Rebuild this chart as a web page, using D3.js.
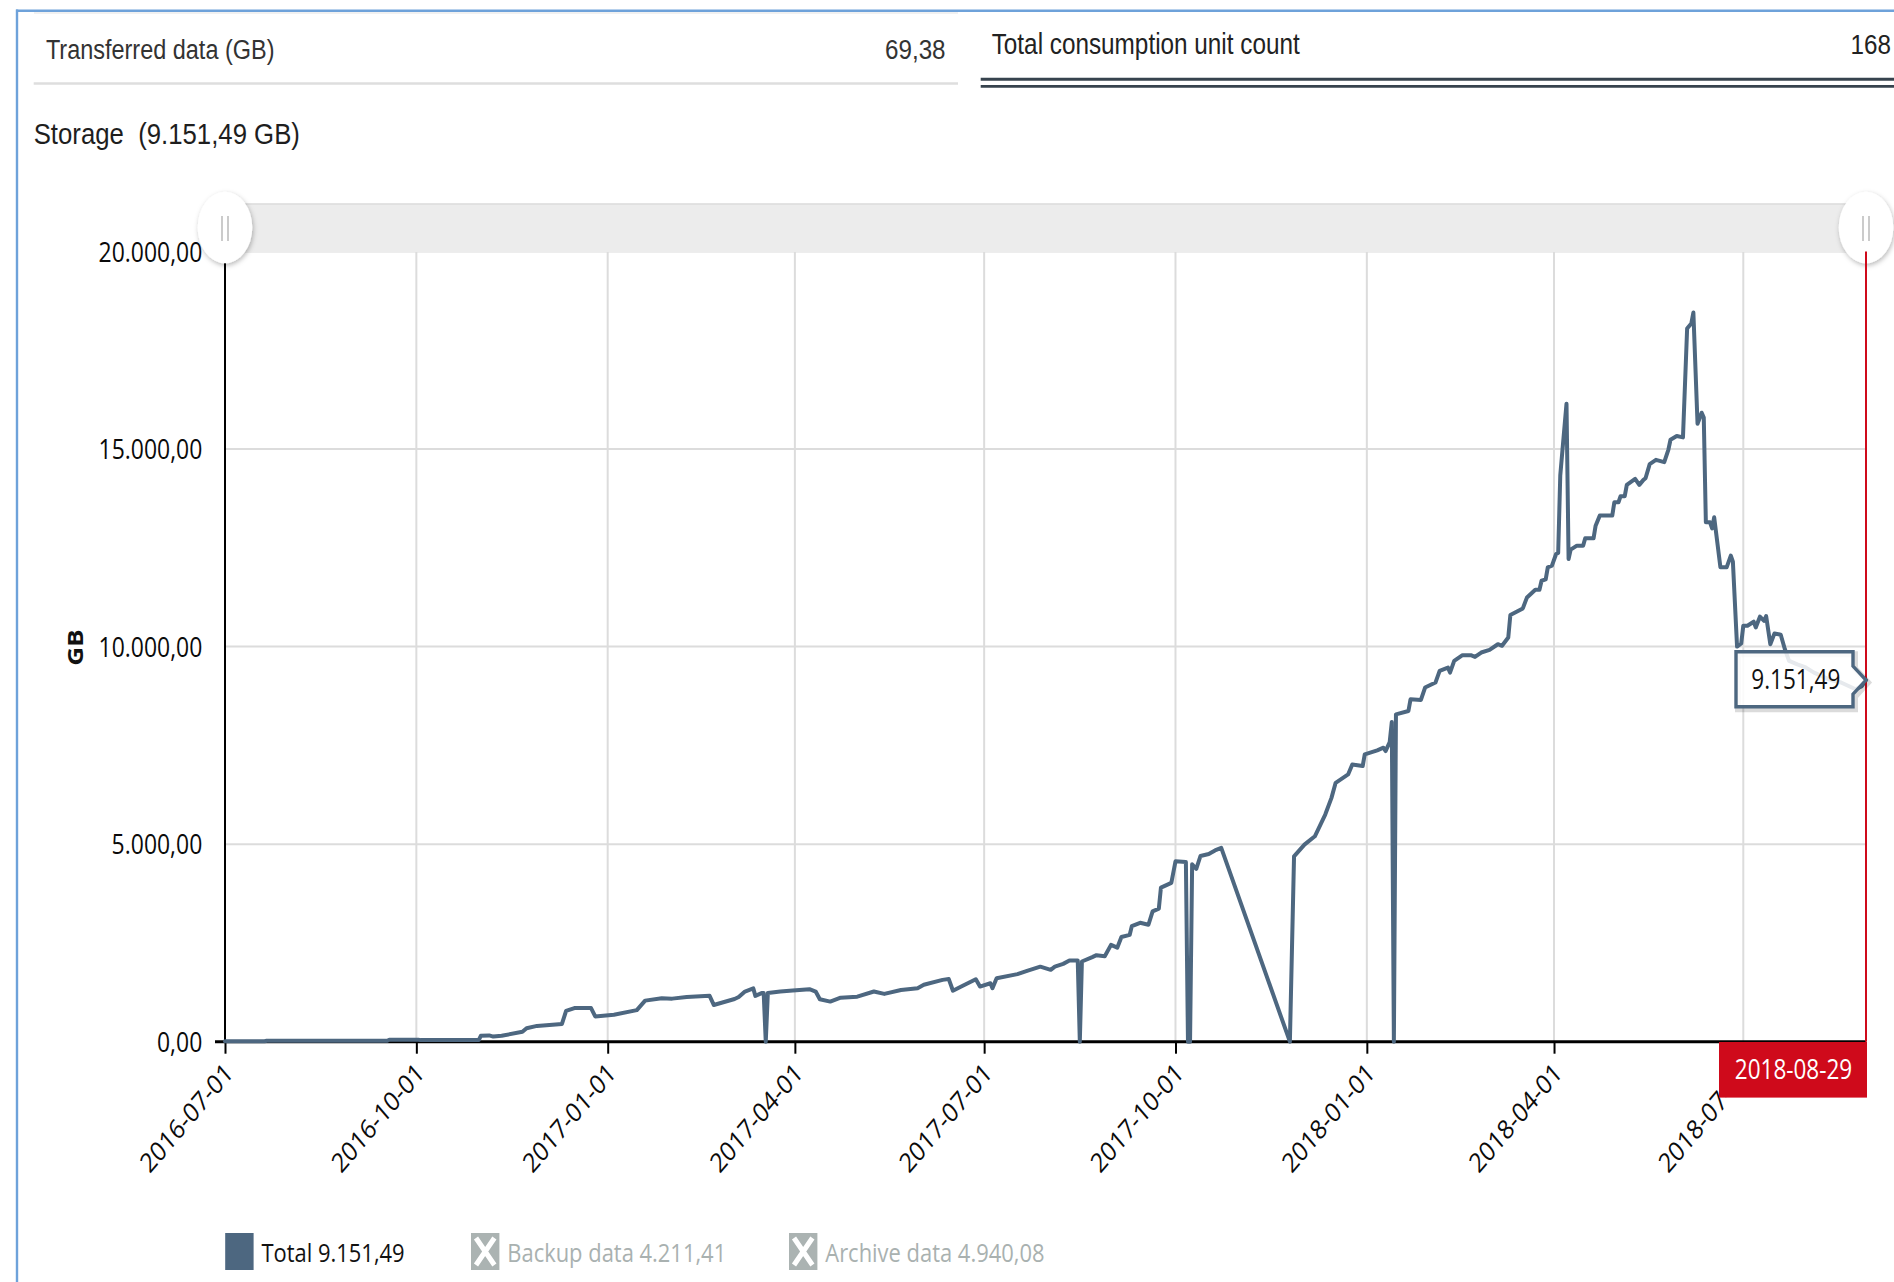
<!DOCTYPE html>
<html><head><meta charset="utf-8">
<script src="https://cdn.jsdelivr.net/npm/d3@7"></script>
<style>html,body{margin:0;padding:0;background:#fff;overflow:hidden}</style>
</head><body><svg id="c" width="1894" height="1282"></svg>
<script>
// ---------------- data ----------------
const headerLabels = ["Transferred data (GB)", "Total consumption unit count"];
const headerValues = ["69,38", "168"];
const chartTitle = "Storage";
const yAxisTitle = "GB";
const xDomain = ["2016-07-01", "2018-08-29"];
const yDomain = [0, 20000];
const yTickValues = [0, 5000, 10000, 15000, 20000];
const xTickLabels = ["2016-07-01","2016-10-01","2017-01-01","2017-04-01","2017-07-01",
  "2017-10-01","2018-01-01","2018-04-01","2018-07-01"];
const cursorDate = "2018-08-29";

const dates = [
 "2016-07-01","2016-07-20","2016-07-21","2016-09-17","2016-09-18","2016-10-02","2016-10-03","2016-10-31",
 "2016-11-01","2016-11-05","2016-11-07","2016-11-11","2016-11-21","2016-11-23","2016-11-28","2016-12-10",
 "2016-12-12","2016-12-16","2016-12-24","2016-12-26",
 "2017-01-04","2017-01-15","2017-01-19","2017-01-27","2017-02-01","2017-02-08","2017-02-19","2017-02-21",
 "2017-03-03","2017-03-05","2017-03-08","2017-03-12","2017-03-13","2017-03-16","2017-03-17","2017-03-18",
 "2017-03-19","2017-03-25","2017-03-31","2017-04-08","2017-04-11","2017-04-13","2017-04-18","2017-04-23",
 "2017-05-01","2017-05-09","2017-05-14","2017-05-22","2017-05-30","2017-06-02","2017-06-11","2017-06-14",
 "2017-06-16","2017-06-20","2017-06-27","2017-06-29","2017-07-04","2017-07-05","2017-07-07","2017-07-17",
 "2017-07-22","2017-07-28","2017-08-02","2017-08-04","2017-08-08","2017-08-11","2017-08-15","2017-08-16",
 "2017-08-17","2017-08-22","2017-08-24","2017-08-28","2017-08-31","2017-09-03","2017-09-05","2017-09-09",
 "2017-09-10","2017-09-14","2017-09-18","2017-09-20","2017-09-23","2017-09-24","2017-09-29","2017-10-01",
 "2017-10-06","2017-10-07","2017-10-08","2017-10-09","2017-10-11","2017-10-13","2017-10-17","2017-10-20",
 "2017-10-23","2017-11-25","2017-11-27","2017-12-02","2017-12-07","2017-12-12","2017-12-15","2017-12-17",
 "2017-12-23","2017-12-25","2017-12-30","2017-12-31",
 "2018-01-06","2018-01-09","2018-01-10","2018-01-12","2018-01-13","2018-01-14","2018-01-15","2018-01-21",
 "2018-01-22","2018-01-27","2018-01-29","2018-02-03","2018-02-05","2018-02-09","2018-02-10","2018-02-12",
 "2018-02-16","2018-02-20","2018-02-22","2018-02-25","2018-03-01","2018-03-05","2018-03-07","2018-03-10",
 "2018-03-11","2018-03-17","2018-03-19","2018-03-23","2018-03-25","2018-03-26","2018-03-28","2018-03-29",
 "2018-03-31","2018-04-02","2018-04-03","2018-04-04","2018-04-07","2018-04-08","2018-04-09","2018-04-12",
 "2018-04-15","2018-04-16","2018-04-20","2018-04-21","2018-04-23","2018-04-29","2018-04-30","2018-05-02",
 "2018-05-03","2018-05-05","2018-05-06","2018-05-10","2018-05-12","2018-05-14","2018-05-15","2018-05-17",
 "2018-05-20","2018-05-24","2018-05-26","2018-05-27","2018-05-30","2018-06-02","2018-06-04","2018-06-06",
 "2018-06-07","2018-06-09","2018-06-11","2018-06-12","2018-06-13","2018-06-15","2018-06-16","2018-06-17",
 "2018-06-20","2018-06-23","2018-06-25","2018-06-26","2018-06-28","2018-06-30","2018-07-01","2018-07-03",
 "2018-07-06","2018-07-07","2018-07-09","2018-07-11","2018-07-12","2018-07-14","2018-07-16","2018-07-19",
 "2018-07-21","2018-07-23","2018-07-27","2018-07-31","2018-08-04","2018-08-11","2018-08-17","2018-08-24",
 "2018-08-27","2018-08-29"
];
const totals = [
 10,10,25,25,50,50,40,40,
 150,160,130,150,250,340,400,450,
 780,850,850,640,
 680,800,1040,1100,1090,1130,1160,930,
 1080,1130,1270,1350,1160,1230,1230,0,
 1230,1268,1293,1330,1270,1075,1015,1115,
 1140,1270,1210,1310,1355,1440,1565,1585,
 1290,1395,1580,1395,1480,1355,1605,1710,
 1800,1900,1820,1900,1970,2054,2054,0,
 2030,2140,2190,2165,2450,2380,2650,2705,
 2925,3010,2960,3300,3370,3900,4020,4565,
 4550,0,0,4490,4375,4700,4750,4840,
 4904,0,4692,4988,5199,5749,6172,6553,
 6764,7018,6976,7271,
 7373,7441,7356,7584,8091,0,8286,8370,
 8666,8650,8963,9090,9384,9468,9342,9638,
 9782,9782,9740,9850,9916,10060,10020,10231,
 10797,10967,11245,11439,11439,11667,11700,12006,
 12048,12344,12370,14330,16148,12217,12453,12555,
 12555,12741,12741,13061,13315,13315,13654,13654,
 13807,13807,14093,14245,14093,14220,14262,14620,
 14727,14668,14988,15235,15329,15295,18050,18177,
 18456,15640,15920,15800,13146,13146,12993,13273,
 12006,12006,12302,12150,10000,10080,10527,10527,
 10630,10485,10757,10650,10770,10060,10334,10300,
 9934,9638,9550,9472,9342,9175,9090,8920,
 9000,9151.49
];
const legendNames = ["Total", "Backup data", "Archive data"];
const legendValues = [9151.49, 4211.41, 4940.08];
const legendVisible = [true, false, false];

// ---------------- drawing ----------------
const SQ = 0.85; // horizontal text compression seen in the reference
const FONT = "'Open Sans', 'DejaVu Sans', sans-serif";
const HFONT = "'Liberation Sans', Arial, sans-serif";
const LINE = "#4d6780";
const RED = "#cf0a1b";

const loc = d3.formatLocale({decimal: ",", thousands: ".", grouping: [3], currency: ["", ""]});
const fmt = loc.format(",.2f");
const parse = d3.timeParse("%Y-%m-%d");

const svg = d3.select("#c");
const defs = svg.append("defs");
const f = defs.append("filter").attr("id", "sh").attr("x", "-50%").attr("y", "-50%").attr("width", "200%").attr("height", "200%");
f.append("feDropShadow").attr("dx", 1).attr("dy", 2).attr("stdDeviation", 2.5).attr("flood-color", "#000").attr("flood-opacity", 0.28);

svg.append("rect").attr("width", 1894).attr("height", 1282).attr("fill", "#fff");

function sqText(parent, x, y, str, o) {
  return parent.append("text")
    .attr("transform", `translate(${x},${y}) scale(${SQ},1)`)
    .attr("text-anchor", o.anchor || "start")
    .attr("font-family", o.family || FONT)
    .attr("font-size", o.size)
    .attr("font-weight", o.weight || "normal")
    .attr("fill", o.fill || "#222")
    .text(str);
}

// frame
svg.append("line").attr("x1", 16).attr("x2", 1894).attr("y1", 10.8).attr("y2", 10.8).attr("stroke", "#6ea2da").attr("stroke-width", 2.6);
svg.append("line").attr("x1", 17).attr("x2", 17).attr("y1", 9.5).attr("y2", 1282).attr("stroke", "#6ea2da").attr("stroke-width", 2.4);
svg.append("line").attr("x1", 34).attr("x2", 958).attr("y1", 13).attr("y2", 13).attr("stroke", "#ececec").attr("stroke-width", 1.5);

// header stats
sqText(svg, 45.9, 59.3, headerLabels[0], {size: 27.6, family: HFONT, fill: "#333"});
sqText(svg, 945.6, 59.3, headerValues[0], {size: 28.5, family: HFONT, fill: "#333", anchor: "end"});
svg.append("line").attr("x1", 33.7).attr("x2", 958).attr("y1", 83.5).attr("y2", 83.5).attr("stroke", "#dedede").attr("stroke-width", 2.5);
sqText(svg, 991.7, 54.3, headerLabels[1], {size: 28.6, family: HFONT, fill: "#222"});
sqText(svg, 1891, 54.3, headerValues[1], {size: 28.5, family: HFONT, fill: "#222", anchor: "end"});
svg.append("line").attr("x1", 980.7).attr("x2", 1894).attr("y1", 79.3).attr("y2", 79.3).attr("stroke", "#37434e").attr("stroke-width", 3);
svg.append("line").attr("x1", 980.7).attr("x2", 1894).attr("y1", 86.4).attr("y2", 86.4).attr("stroke", "#37434e").attr("stroke-width", 2.6);

const lastVal = totals[totals.length - 1];
sqText(svg, 33.7, 144, `${chartTitle}\u00a0\u00a0(${fmt(lastVal)} GB)`, {size: 30.3, family: HFONT, fill: "#1e1e1e"});

// scales
const X0 = 225, X1 = 1866, YB = 1041.7, YT = 251.5;
const x = d3.scaleTime().domain(xDomain.map(parse)).range([X0, X1]);
const y = d3.scaleLinear().domain(yDomain).range([YB, YT]);
const tickDates = xTickLabels.map(parse);

// grid
const grid = svg.append("g");
grid.selectAll(".v").data(tickDates).join("line")
  .attr("x1", d => x(d)).attr("x2", d => x(d)).attr("y1", YT).attr("y2", YB)
  .attr("stroke", "#dcdcdc").attr("stroke-width", 2);
grid.selectAll(".h").data(yTickValues.filter(v => v > 0)).join("line")
  .attr("x1", X0).attr("x2", X1).attr("y1", d => y(d)).attr("y2", d => y(d))
  .attr("stroke", "#dcdcdc").attr("stroke-width", 2);

// y axis
const gy = svg.append("g").attr("transform", `translate(${X0},0)`)
  .call(d3.axisLeft(y).tickValues(yTickValues).tickSize(0).tickFormat(fmt));
gy.select(".domain").remove();
gy.selectAll("text")
  .attr("x", 0).attr("dy", "0.36em")
  .attr("transform", `translate(-22.7,0) scale(${SQ},1)`)
  .attr("font-family", FONT).attr("font-size", 27).attr("fill", "#0a0a0a");
svg.append("line").attr("x1", X0).attr("x2", X0).attr("y1", YT).attr("y2", YB + 1).attr("stroke", "#000").attr("stroke-width", 2);

svg.append("text")
  .attr("transform", `translate(82.5,647.5) scale(${SQ},1) rotate(-90)`)
  .attr("text-anchor", "middle").attr("font-family", FONT).attr("font-weight", "bold")
  .attr("font-size", 26).attr("fill", "#111").text(yAxisTitle);

// x axis
const gx = svg.append("g").attr("transform", `translate(0,${YB})`)
  .call(d3.axisBottom(x).tickValues(tickDates).tickSize(12).tickFormat(d3.timeFormat("%Y-%m-%d")));
gx.select(".domain").remove();
gx.selectAll("line").attr("stroke", "#000").attr("stroke-width", 2);
gx.selectAll("text")
  .attr("x", 0).attr("y", 0).attr("dy", 0)
  .attr("text-anchor", "end")
  .attr("transform", `translate(9,33) scale(${SQ},1) rotate(-45)`)
  .attr("font-family", FONT).attr("font-size", 27).attr("fill", "#0a0a0a");
svg.append("line").attr("x1", 215).attr("x2", X1).attr("y1", YB).attr("y2", YB).attr("stroke", "#000").attr("stroke-width", 3);

// series line
const pts = dates.map((d, i) => ({d: parse(d), v: totals[i]}));
svg.append("path").datum(pts)
  .attr("d", d3.line().x(p => x(p.d)).y(p => y(p.v)))
  .attr("fill", "none").attr("stroke", LINE).attr("stroke-width", 4)
  .attr("stroke-linejoin", "round").attr("stroke-linecap", "round");

// navigator band + handles
svg.append("rect").attr("x", X0).attr("y", 203.5).attr("width", X1 - X0).attr("height", 48.5).attr("fill", "#ececec");
svg.append("line").attr("x1", X0).attr("x2", X1).attr("y1", 204).attr("y2", 204).attr("stroke", "#dddddd").attr("stroke-width", 1.5);
[X0, X1].forEach(cx => {
  svg.append("ellipse").attr("cx", cx).attr("cy", 227.5).attr("rx", 27.3).attr("ry", 35.8)
    .attr("fill", "#fff").attr("filter", "url(#sh)");
  [-3, 3].forEach(dx => svg.append("line").attr("x1", cx + dx).attr("x2", cx + dx).attr("y1", 216).attr("y2", 241)
    .attr("stroke", "#b5b5b5").attr("stroke-width", 1.4));
});

// cursor line + date label
const cd = parse(cursorDate);
svg.append("line").attr("x1", x(cd)).attr("x2", x(cd)).attr("y1", YT).attr("y2", YB).attr("stroke", RED).attr("stroke-width", 2);
svg.append("rect").attr("x", x(cd) - 147).attr("y", YB + 0.3).attr("width", 148).attr("height", 55.6).attr("fill", RED);
sqText(svg, x(cd) - 72.5, 1079, d3.timeFormat("%Y-%m-%d")(cd), {size: 26.5, fill: "#fff", anchor: "middle"});

// tooltip
const tipX = x(pts[pts.length - 1].d), tipY = y(lastVal);
const bx0 = 1736, bx1 = 1853, by0 = 651.7, by1 = 706.7;
const tipPath = `M${bx0},${by0} H${bx1} V${tipY - 14} L${tipX},${tipY} L${bx1},${tipY + 14} V${by1} H${bx0} Z`;
svg.append("path").attr("d", tipPath).attr("transform", "translate(2,2.5)")
  .attr("fill", "none").attr("stroke", "rgba(0,0,0,0.14)").attr("stroke-width", 6);
svg.append("path").attr("d", tipPath)
  .attr("fill", "rgba(255,255,255,0.86)").attr("stroke", LINE).attr("stroke-width", 3.4).attr("stroke-linejoin", "miter");
sqText(svg, 1795.8, 689.3, fmt(lastVal), {size: 26.5, fill: "#111", anchor: "middle"});

// legend
const legX = [225.2, 471, 789];
legendNames.forEach((n, i) => {
  const lx = legX[i], ly = 1233, w = 28.4, h = 37;
  if (legendVisible[i]) {
    svg.append("rect").attr("x", lx).attr("y", ly).attr("width", w).attr("height", h).attr("fill", LINE);
  } else {
    svg.append("rect").attr("x", lx).attr("y", ly).attr("width", w).attr("height", h).attr("fill", "#abb3b2");
    svg.append("path").attr("d", `M${lx + 5},${ly + 5} L${lx + w - 5},${ly + h - 5} M${lx + w - 5},${ly + 5} L${lx + 5},${ly + h - 5}`)
      .attr("stroke", "#fff").attr("stroke-width", 5);
  }
  sqText(svg, lx + 36.3, 1261.7, `${n} ${fmt(legendValues[i])}`,
    {size: 25.8, fill: legendVisible[i] ? "#111" : "#a9b1b0"});
});
</script>
</body></html>
